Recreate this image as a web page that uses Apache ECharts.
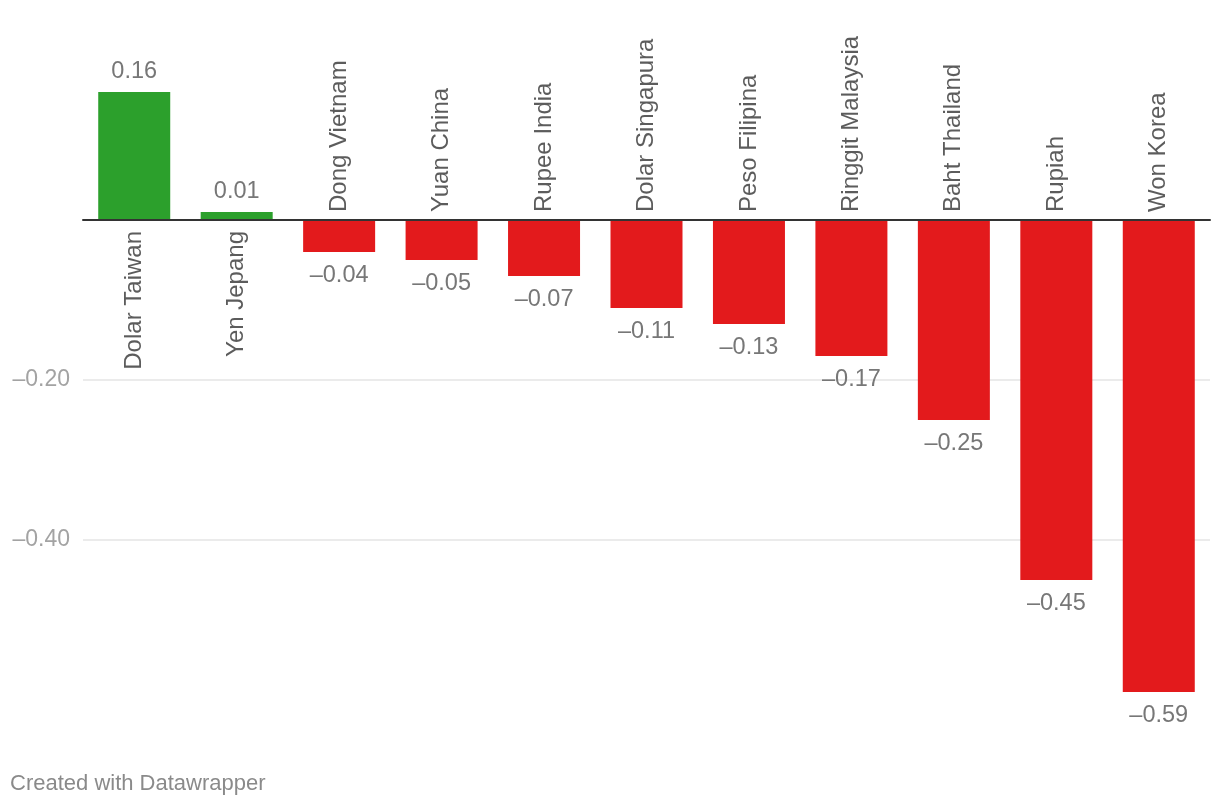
<!DOCTYPE html>
<html>
<head>
<meta charset="utf-8">
<script src="https://cdn.jsdelivr.net/npm/echarts@6/dist/echarts.min.js"></script>
<style>
html,body{margin:0;padding:0;background:#fff;}
#c{width:1220px;height:806px;}
</style>
</head>
<body>
<div id="c"></div>
<script>
const categories = ['Dolar Taiwan','Yen Jepang','Dong Vietnam','Yuan China','Rupee India','Dolar Singapura','Peso Filipina','Ringgit Malaysia','Baht Thailand','Rupiah','Won Korea'];
const values = [0.16, 0.01, -0.04, -0.05, -0.07, -0.11, -0.13, -0.17, -0.25, -0.45, -0.59];
const yTickValues = [-0.2, -0.4];
const yTickLabels = ['\u20130.20', '\u20130.40'];
const footer = 'Created with Datawrapper';

const FONT = '"Liberation Sans", Arial, Helvetica, sans-serif';
const fmt = v => (v < 0 ? '\u2013' : '') + Math.abs(v).toFixed(2);

const chart = echarts.init(document.getElementById('c'), null, {renderer: 'canvas'});
chart.setOption({
  animation: false,
  backgroundColor: '#fff',
  textStyle: {fontFamily: FONT},
  grid: {left: 83, right: 10, top: 60, bottom: 106},
  xAxis: {
    type: 'category',
    data: categories,
    z: 5,
    axisLine: {onZero: true, lineStyle: {color: '#333', width: 2}},
    axisTick: {show: false},
    axisLabel: {show: false}
  },
  yAxis: {
    type: 'value',
    min: -0.6, max: 0.2, interval: 0.2,
    axisLine: {show: false},
    axisTick: {show: false},
    splitLine: {show: true, showMinLine: false, showMaxLine: false, lineStyle: {color: '#e5e5e5', width: 1.5}},
    axisLabel: {
      color: '#a3a3a3', fontSize: 23, fontFamily: FONT, margin: 13,
      padding: [3, 0, 0, 0],
      formatter: v => {
        for (let i = 0; i < yTickValues.length; i++) {
          if (Math.abs(v - yTickValues[i]) < 1e-9) return yTickLabels[i];
        }
        return '';
      }
    }
  },
  series: [
    {
      type: 'bar',
      barWidth: 72,
      data: values.map(v => ({
        value: v,
        itemStyle: {color: v >= 0 ? '#2ca02c' : '#e31a1c'},
        label: v >= 0 ? {position: 'top', distance: 8} : {position: 'bottom', distance: 12}
      })),
      label: {
        show: true, color: '#777', fontSize: 23.5, fontFamily: FONT,
        formatter: p => fmt(p.value)
      }
    },
    {
      type: 'scatter',
      symbolSize: 0,
      silent: true,
      z: 6,
      data: values.map((v, i) => ({
        value: [i, 0],
        label: v >= 0
          ? {position: 'bottom', distance: 11, align: 'right'}
          : {position: 'top', distance: 8, align: 'left'}
      })),
      label: {
        show: true, rotate: 90, verticalAlign: 'middle',
        color: '#333', fontSize: 24, fontFamily: FONT,
        formatter: p => categories[p.dataIndex]
      }
    }
  ],
  graphic: [
    {type: 'text', left: 10, top: 773, style: {text: footer, fill: '#8a8a8a', font: '22px ' + FONT}}
  ]
});
</script>
</body>
</html>
